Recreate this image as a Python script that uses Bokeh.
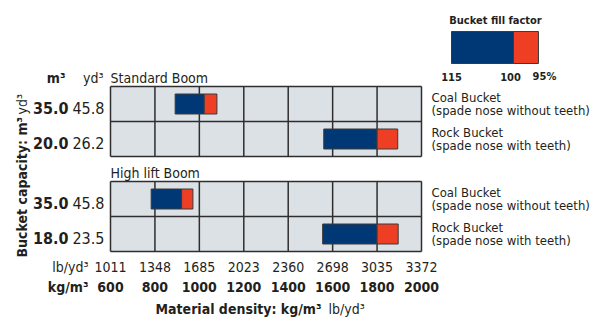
import math
from bokeh.plotting import figure
from bokeh.models import Range1d
from bokeh.embed import file_html
from bokeh.resources import INLINE
from bokeh.core.properties import value

# ---------------- data ----------------
booms = ["Standard Boom", "High lift Boom"]
bucket_names = ["Coal Bucket", "Rock Bucket"]
bucket_notes = ["(spade nose without teeth)", "(spade nose with teeth)"]
cap_m3 = ["35.0", "20.0", "35.0", "18.0"]
cap_yd3 = ["45.8", "26.2", "45.8", "23.5"]
dens_fill115 = [891, 1560, 783, 1555]    # kg/m3 at 115 % fill
dens_fill100 = [1022, 1800, 920, 1800]   # kg/m3 at 100 % fill
dens_fill95 = [1079, 1893, 971, 1895]    # kg/m3 at 95 % fill
kg_ticks = [600, 800, 1000, 1200, 1400, 1600, 1800, 2000]
lb_ticks = [1011, 1348, 1685, 2023, 2360, 2698, 3035, 3372]
fill_factors = [115, 100, 95]
fill_labels = ["115", "100", "95%"]

# ---------------- style / layout ----------------
FONT = "'DejaVu Sans Condensed', 'Roboto Condensed', 'Liberation Sans Narrow', Roboto, sans-serif"
TXT = "#231f20"
BLUE = "#003876"
RED = "#ee3f24"
CELL = "#dce1e6"
GRIDC = "#2e2e2e"
W, H = 604, 318
GL, GR = 110, 421                 # px of first / last density tick
scale = (GR - GL) / (kg_ticks[-1] - kg_ticks[0])
x0 = kg_ticks[0] - GL / scale


def X(px):
    return x0 + px / scale


p = figure(width=W, height=H, output_backend="svg", toolbar_location=None,
           x_range=Range1d(x0, x0 + W / scale), y_range=Range1d(H, 0),
           x_axis_type=None, y_axis_type=None, min_border=0,
           outline_line_color=None, background_fill_color="white",
           border_fill_color="white")
p.grid.visible = False


def txt(x, y, s, size, bold=False, align="left", angle=0):
    px = float(size.replace("px", ""))
    dy = -0.36 * px if angle == 0 else 0.0
    p.text(x=x, y=[v + dy for v in y], text=s, text_font=value(FONT), text_font_size=size,
           text_font_style="bold" if bold else "normal", text_color=TXT,
           text_align=align, text_baseline="alphabetic", angle=angle)


panel_tops = [86, 181]
ROW = 35
for i, boom in enumerate(booms):
    pt = panel_tops[i]
    pb = pt + 2 * ROW
    p.quad(left=[kg_ticks[0]], right=[kg_ticks[-1]], top=[pt], bottom=[pb],
           fill_color=CELL, line_color=None)
    p.segment(x0=kg_ticks, x1=kg_ticks, y0=[pt] * len(kg_ticks), y1=[pb] * len(kg_ticks),
              line_color=GRIDC, line_width=1.5)
    p.segment(x0=[kg_ticks[0]] * 3, x1=[kg_ticks[-1]] * 3, y0=[pt, pt + ROW, pb],
              y1=[pt, pt + ROW, pb], line_color=GRIDC, line_width=1.5)
    txt([X(110)], [pt - 3], [boom], "14px")
    for j in range(2):
        k = 2 * i + j
        rc = pt + ROW * j + ROW / 2
        p.quad(left=[dens_fill115[k]], right=[dens_fill100[k]], top=[rc - 10], bottom=[rc + 10],
               fill_color=BLUE, line_color="#3a3a3a", line_width=1)
        p.quad(left=[dens_fill100[k]], right=[dens_fill95[k]], top=[rc - 10], bottom=[rc + 10],
               fill_color=RED, line_color="#3a3a3a", line_width=1)
        txt([X(68)], [rc + 10], [cap_m3[k]], "16px", bold=True, align="right")
        txt([X(104)], [rc + 10], [cap_yd3[k]], "16px", align="right")
        txt([X(431)], [rc - 1.5], [bucket_names[j]], "13px")
        txt([X(431)], [rc + 11.5], [bucket_notes[j]], "13px")

# column header (upper panel only)
txt([X(65)], [83], ["m³"], "14px", bold=True, align="right")
txt([X(103)], [83], ["yd³"], "14px", align="right")

# x-axis labels
txt(kg_ticks, [272] * len(kg_ticks), [str(v) for v in lb_ticks], "14px", align="center")
txt(kg_ticks, [291.5] * len(kg_ticks), [str(v) for v in kg_ticks], "14px", bold=True, align="center")
txt([X(88)], [272], ["lb/yd³"], "14px", align="right")
txt([X(88)], [291.5], ["kg/m³"], "14px", bold=True, align="right")
txt([X(321)], [314], ["Material density: kg/m³"], "14px", bold=True, align="right")
txt([X(328)], [314], ["lb/yd³"], "14px")

# y-axis title (rotated)
txt([X(21)], [257], ["Bucket capacity: m³"], "14px", bold=True, angle=math.pi / 2)
txt([X(21)], [114], ["yd³"], "14px", angle=math.pi / 2)


# legend: bucket fill factor scale
def LX(f):
    return X(451 + 475 * (100 / f - 100 / fill_factors[0]))


p.quad(left=[LX(fill_factors[0])], right=[LX(fill_factors[1])], top=[31], bottom=[63],
       fill_color=BLUE, line_color="#3a3a3a", line_width=1)
p.quad(left=[LX(fill_factors[1])], right=[LX(fill_factors[2])], top=[31], bottom=[63],
       fill_color=RED, line_color="#3a3a3a", line_width=1)
txt([X(495)], [24], ["Bucket fill factor"], "11px", bold=True, align="center")
lab_x = [LX(fill_factors[0]), LX(fill_factors[1]) - 3 / scale, LX(fill_factors[2]) + 6 / scale]
txt(lab_x, [80] * 3, fill_labels, "11px", bold=True, align="center")

open("out.html", "w").write(file_html(p, INLINE))
